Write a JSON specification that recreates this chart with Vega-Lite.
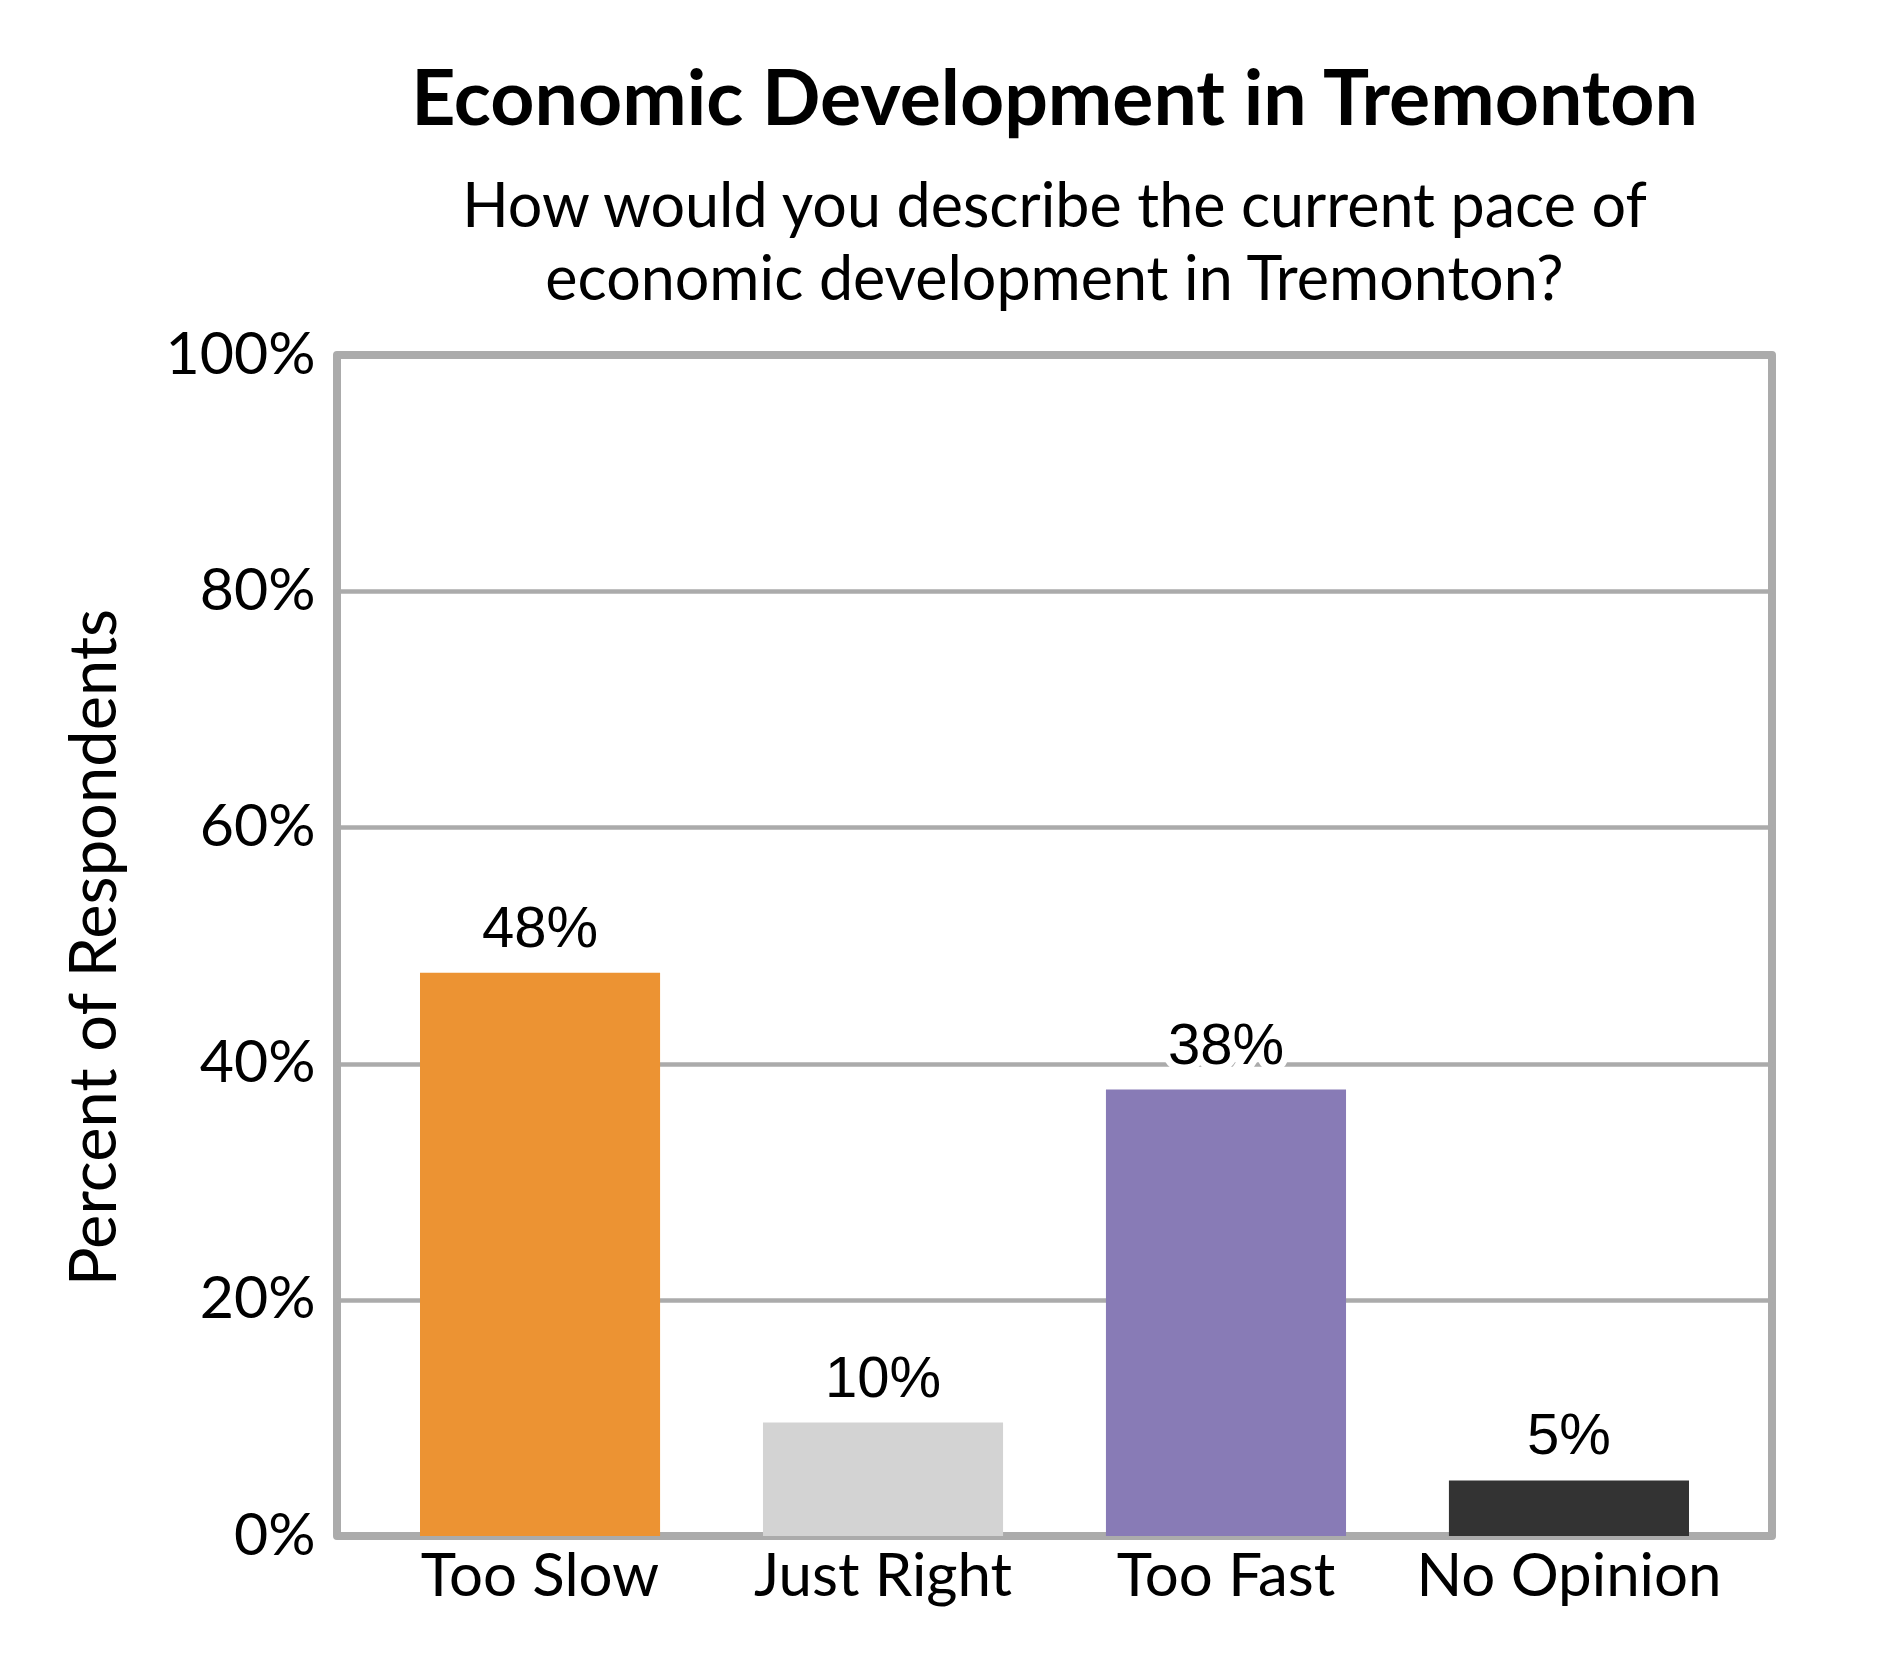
{
  "$schema": "https://vega.github.io/schema/vega-lite/v6.json",
  "autosize": {"type": "none"},
  "width": 1435,
  "height": 1181,
  "padding": {"left": 337, "top": 355, "right": 118, "bottom": 144},
  "background": "white",
  "title": {
    "text": "Economic Development in Tremonton",
    "subtitle": ["How would you describe the current pace of", "economic development in Tremonton?"],
    "anchor": "middle",
    "font": "Lato",
    "fontSize": 77,
    "fontWeight": "bold",
    "color": "black",
    "subtitleFont": "Lato",
    "subtitleFontSize": 61,
    "subtitleColor": "black",
    "subtitleLineHeight": 73,
    "subtitlePadding": 38,
    "offset": 13
  },
  "config": {
    "view": {"stroke": "#ABABAB", "strokeWidth": 8, "strokeJoin": "round"}
  },
  "data": {
    "values": [
      {"answer": "Too Slow", "pct": 47.7, "label": "48%"},
      {"answer": "Just Right", "pct": 9.6, "label": "10%"},
      {"answer": "Too Fast", "pct": 37.8, "label": "38%"},
      {"answer": "No Opinion", "pct": 4.7, "label": "5%"}
    ]
  },
  "encoding": {
    "x": {
      "field": "answer",
      "type": "nominal",
      "sort": null,
      "scale": {"paddingInner": 0.3, "paddingOuter": 0.242},
      "axis": {
        "title": null,
        "labelAngle": 0,
        "labelLimit": 0,
        "domain": false,
        "ticks": false,
        "labelFont": "Lato",
        "labelFontSize": 60,
        "labelColor": "black",
        "labelPadding": 12
      }
    },
    "y": {
      "field": "pct",
      "type": "quantitative",
      "scale": {"domain": [0, 100]},
      "axis": {
        "title": "Percent of Respondents",
        "values": [0, 20, 40, 60, 80, 100],
        "labelExpr": "datum.value + '%'",
        "domain": false,
        "ticks": false,
        "grid": true,
        "gridColor": "#ABABAB",
        "gridWidth": 4.5,
        "labelFont": "Lato",
        "labelFontSize": 59,
        "labelColor": "black",
        "labelPadding": 22,
        "titleFont": "Lato",
        "titleFontSize": 65,
        "titleFontWeight": "normal",
        "titleColor": "black",
        "titleAngle": -90,
        "titleAlign": "center",
        "titleBaseline": "middle",
        "titleX": -242,
        "titleY": 592
      }
    }
  },
  "layer": [
    {
      "mark": {"type": "bar"},
      "encoding": {
        "color": {
          "field": "answer",
          "type": "nominal",
          "legend": null,
          "scale": {
            "domain": ["Too Slow", "Just Right", "Too Fast", "No Opinion"],
            "range": ["#EC9333", "#D3D3D3", "#887BB6", "#333333"]
          }
        }
      }
    },
    {
      "mark": {
        "type": "text",
        "font": "Liberation Sans",
        "fontSize": 58,
        "baseline": "alphabetic",
        "dy": -26,
        "stroke": "white",
        "strokeWidth": 14,
        "strokeJoin": "miter",
        "fill": "white"
      },
      "encoding": {"text": {"field": "label"}}
    },
    {
      "mark": {
        "type": "text",
        "font": "Liberation Sans",
        "fontSize": 58,
        "baseline": "alphabetic",
        "dy": -26,
        "color": "black"
      },
      "encoding": {"text": {"field": "label"}}
    }
  ]
}
